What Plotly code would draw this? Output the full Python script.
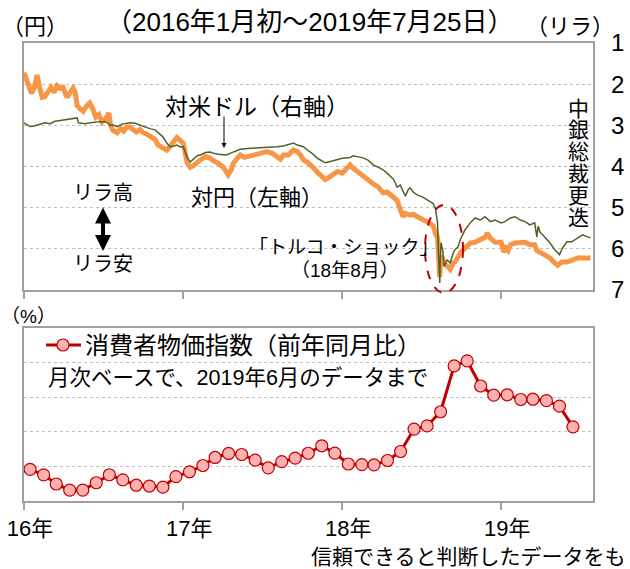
import pandas as pd
import plotly.graph_objects as go

# ---------------- data ----------------
# Turkish lira vs yen (left axis, yen per lira)
jpy_dates = [
    "2016-01-01", "2016-01-05", "2016-01-12", "2016-01-18", "2016-01-25", "2016-01-31", "2016-02-05",
    "2016-02-12", "2016-02-18", "2016-02-25", "2016-03-03", "2016-03-10", "2016-03-17", "2016-03-24",
    "2016-03-31", "2016-04-05", "2016-04-09", "2016-04-16", "2016-04-23", "2016-04-28", "2016-05-02",
    "2016-05-09", "2016-05-16", "2016-05-23", "2016-05-31", "2016-06-07", "2016-06-14", "2016-06-21",
    "2016-06-28", "2016-07-07", "2016-07-14", "2016-07-18", "2016-07-23", "2016-08-02", "2016-08-10",
    "2016-08-17", "2016-08-24", "2016-08-31", "2016-09-08", "2016-09-15", "2016-09-23", "2016-10-01",
    "2016-10-10", "2016-10-20", "2016-10-28", "2016-11-04", "2016-11-10", "2016-11-18", "2016-11-24",
    "2016-12-01", "2016-12-10", "2016-12-17", "2016-12-24",
    "2017-01-01", "2017-01-10", "2017-01-17", "2017-01-24", "2017-02-02", "2017-02-09", "2017-02-21",
    "2017-03-04", "2017-03-11", "2017-03-22", "2017-04-03", "2017-04-10", "2017-04-14", "2017-04-21",
    "2017-04-26", "2017-05-05", "2017-05-12", "2017-05-21", "2017-05-28", "2017-06-08", "2017-06-20",
    "2017-07-01", "2017-07-13", "2017-07-24", "2017-08-05", "2017-08-12", "2017-08-19", "2017-08-30",
    "2017-09-11", "2017-09-20", "2017-09-27", "2017-10-04", "2017-10-13", "2017-10-20", "2017-10-26",
    "2017-11-05", "2017-11-12", "2017-11-23", "2017-12-05", "2017-12-12", "2017-12-21",
    "2018-01-01", "2018-01-08", "2018-01-19", "2018-01-26", "2018-02-04", "2018-02-18", "2018-03-02",
    "2018-03-13", "2018-03-25", "2018-04-05", "2018-04-14", "2018-04-21", "2018-04-28", "2018-05-07",
    "2018-05-14", "2018-05-21", "2018-05-26", "2018-06-06", "2018-06-13", "2018-06-22", "2018-06-29",
    "2018-07-06", "2018-07-15", "2018-07-22", "2018-07-29", "2018-08-03", "2018-08-08", "2018-08-10",
    "2018-08-13", "2018-08-15", "2018-08-17", "2018-08-23", "2018-08-30", "2018-09-06", "2018-09-13",
    "2018-09-17", "2018-09-24", "2018-09-29", "2018-10-10", "2018-10-22", "2018-11-02", "2018-11-14",
    "2018-11-25", "2018-11-30", "2018-12-07", "2018-12-18",
    "2019-01-01", "2019-01-07", "2019-01-12", "2019-01-17", "2019-01-22", "2019-02-02", "2019-02-14",
    "2019-02-25", "2019-03-08", "2019-03-19", "2019-03-24", "2019-03-31", "2019-04-11", "2019-04-23",
    "2019-05-04", "2019-05-11", "2019-05-20", "2019-06-01", "2019-06-12", "2019-06-26", "2019-07-07",
    "2019-07-19", "2019-07-25",
]
jpy_values = [
    41.4, 40.8, 39.5, 38.9, 39.6, 41.1, 39.8,
    38.4, 38.5, 39.2, 39.6, 39.0, 39.8, 39.5,
    39.6, 38.9, 38.4, 39.0, 39.5, 39.0, 37.4,
    37.0, 36.7, 37.3, 37.7, 37.0, 36.0, 36.3,
    35.4, 35.8, 36.5, 35.0, 34.4, 34.1, 34.6,
    34.3, 34.8, 34.8, 34.4, 34.2, 34.5, 34.1,
    33.9, 33.5, 33.3, 32.6, 32.4, 32.3, 32.0,
    32.4, 33.0, 33.5, 33.2,
    32.8, 30.4, 29.9, 30.1, 30.6, 30.8, 31.2,
    31.0, 30.7, 30.4, 29.9, 29.4, 29.0, 29.6,
    30.4, 31.0, 31.4, 31.1, 31.2, 31.4, 31.6,
    31.7, 31.8, 31.6, 31.2, 30.9, 31.4, 31.4,
    32.0, 31.8, 31.4, 30.8, 30.5, 30.2, 29.9,
    29.3, 29.0, 28.4, 28.8, 29.0, 29.4,
    29.2, 29.6, 30.2, 29.8, 29.4, 28.9, 28.4,
    27.9, 27.5, 26.8, 26.9, 26.6, 26.2, 25.9,
    24.8, 23.9, 24.3, 24.1, 24.2, 23.9, 23.6,
    23.5, 23.3, 23.1, 22.8, 21.9, 21.4, 19.5,
    16.6, 18.4, 19.2, 18.3, 17.8, 17.5, 18.3,
    18.4, 19.0, 19.5, 20.1, 20.7, 20.8, 21.1,
    21.4, 21.9, 21.3, 20.8,
    20.8, 19.6, 20.1, 19.8, 20.5, 20.7, 20.8,
    20.8, 20.5, 20.5, 19.8, 19.6, 19.2, 18.9,
    18.3, 18.0, 18.4, 18.4, 18.6, 18.9, 18.9,
    19.0, 18.9,
]

# Turkish lira vs US dollar (right axis, lira per dollar, inverted)
usd_dates = [
    "2016-01-01", "2016-01-08", "2016-01-15", "2016-01-22", "2016-01-31", "2016-02-09", "2016-02-18",
    "2016-03-01", "2016-03-12", "2016-03-24", "2016-04-09", "2016-04-23", "2016-05-02", "2016-05-05",
    "2016-05-20", "2016-06-01", "2016-06-12", "2016-06-24", "2016-07-07", "2016-07-18", "2016-07-23",
    "2016-08-02", "2016-08-13", "2016-08-22", "2016-08-31", "2016-09-12", "2016-09-23", "2016-10-05",
    "2016-10-16", "2016-10-28", "2016-11-08", "2016-11-15", "2016-11-24", "2016-12-01", "2016-12-11",
    "2016-12-17", "2016-12-24",
    "2017-01-01", "2017-01-10", "2017-01-17", "2017-01-24", "2017-02-02", "2017-02-09", "2017-02-21",
    "2017-03-04", "2017-03-11", "2017-03-22", "2017-04-03", "2017-04-10", "2017-04-21", "2017-05-05",
    "2017-05-12", "2017-05-28", "2017-06-20", "2017-07-13", "2017-07-24", "2017-08-05", "2017-08-19",
    "2017-08-30", "2017-09-11", "2017-09-20", "2017-10-04", "2017-10-13", "2017-10-26", "2017-11-05",
    "2017-11-12", "2017-11-23", "2017-12-05", "2017-12-21",
    "2018-01-01", "2018-01-19", "2018-01-26", "2018-02-04", "2018-02-18", "2018-03-02", "2018-03-13",
    "2018-03-25", "2018-04-05", "2018-04-14", "2018-04-21", "2018-04-28", "2018-05-03", "2018-05-07",
    "2018-05-14", "2018-05-21", "2018-05-26", "2018-06-02", "2018-06-06", "2018-06-13", "2018-06-22",
    "2018-07-06", "2018-07-15", "2018-07-22", "2018-07-29", "2018-08-03", "2018-08-08", "2018-08-10",
    "2018-08-13", "2018-08-14", "2018-08-16", "2018-08-20", "2018-08-23", "2018-08-30", "2018-09-06",
    "2018-09-13", "2018-09-17", "2018-09-24", "2018-09-29", "2018-10-10", "2018-10-22", "2018-11-02",
    "2018-11-14", "2018-11-25", "2018-12-07", "2018-12-18",
    "2019-01-01", "2019-01-10", "2019-01-22", "2019-02-02", "2019-02-14", "2019-02-25", "2019-03-08",
    "2019-03-19", "2019-03-24", "2019-03-27", "2019-03-31", "2019-04-11", "2019-04-23", "2019-05-04",
    "2019-05-15", "2019-05-22", "2019-06-01", "2019-06-12", "2019-06-26", "2019-07-07", "2019-07-19",
    "2019-07-25",
]
usd_values = [
    2.94, 2.98, 3.03, 3.02, 2.99, 2.96, 2.94,
    2.96, 2.90, 2.88, 2.86, 2.84, 2.82, 2.94,
    2.96, 2.94, 2.92, 2.91, 2.91, 3.00, 2.99,
    3.03, 2.97, 2.95, 2.94, 2.95, 2.99, 3.05,
    3.08, 3.11, 3.20, 3.28, 3.43, 3.52, 3.50,
    3.48, 3.52,
    3.52, 3.79, 3.89, 3.82, 3.74, 3.72, 3.66,
    3.65, 3.68, 3.70, 3.72, 3.72, 3.67, 3.60,
    3.58, 3.56, 3.55, 3.54, 3.53, 3.52, 3.50,
    3.47, 3.43, 3.48, 3.52, 3.60, 3.70, 3.80,
    3.84, 3.91, 3.88, 3.84,
    3.80, 3.78, 3.74, 3.76, 3.79, 3.85, 3.96,
    4.02, 4.08, 4.16, 4.22, 4.30, 4.40, 4.50,
    4.45, 4.62, 4.72, 4.55, 4.52, 4.62, 4.69,
    4.75, 4.81, 4.86, 4.90, 5.02, 5.37, 6.10,
    6.83, 6.30, 5.85, 6.05, 6.43, 6.27, 6.34,
    6.10, 6.02, 5.95, 5.78, 5.54, 5.37, 5.25,
    5.30, 5.22, 5.34, 5.30,
    5.37, 5.34, 5.25, 5.22, 5.30, 5.34, 5.42,
    5.37, 5.71, 5.45, 5.59, 5.71, 5.85, 6.02,
    6.14, 5.98, 5.83, 5.83, 5.74, 5.66, 5.71,
    5.73,
]

# Consumer price index, year-on-year (%), monthly
cpi_months = [
    "2016-01", "2016-02", "2016-03", "2016-04", "2016-05", "2016-06", "2016-07", "2016-08",
    "2016-09", "2016-10", "2016-11", "2016-12",
    "2017-01", "2017-02", "2017-03", "2017-04", "2017-05", "2017-06", "2017-07", "2017-08",
    "2017-09", "2017-10", "2017-11", "2017-12",
    "2018-01", "2018-02", "2018-03", "2018-04", "2018-05", "2018-06", "2018-07", "2018-08",
    "2018-09", "2018-10", "2018-11", "2018-12",
    "2019-01", "2019-02", "2019-03", "2019-04", "2019-05", "2019-06",
]
cpi_values = [
    9.58, 8.78, 7.46, 6.57, 6.58, 7.64, 8.79, 8.05, 7.28, 7.16, 7.00, 8.53,
    9.22, 10.13, 11.29, 11.87, 11.72, 10.90, 9.79, 10.68, 11.20, 11.90, 12.98, 11.92,
    10.35, 10.26, 10.23, 10.85, 12.15, 15.39, 15.85, 17.90, 24.52, 25.24, 21.62, 20.30,
    20.35, 19.67, 19.71, 19.50, 18.71, 15.72,
]

year_ticks = ["2016-01-01", "2017-01-01", "2018-01-01", "2019-01-01"]
year_labels = ["16年", "17年", "18年", "19年"]
right_ticks = [1, 2, 3, 4, 5, 6, 7]

# ---------------- layout helpers ----------------
W, H = 630, 569
L, R, T, B = 24, 37, 43, 68
PW, PH = W - L - R, H - T - B


def px(x):
    return (x - L) / PW


def py(y):
    return (H - B - y) / PH


FONT = "Liberation Sans, Arial, 'Noto Sans CJK JP', sans-serif"
ORANGE = "#F79646"
GREEN = "#4F6228"
DARKRED = "#C00000"
PINK = "#FFB0B0"
FRAME = "#A0A0A0"
GRID = "#BFBFBF"

cpi_x = pd.to_datetime(cpi_months) + pd.Timedelta(days=14)

fig = go.Figure()
fig.add_trace(go.Scatter(x=pd.to_datetime(jpy_dates), y=jpy_values, mode="lines",
                         line=dict(color=ORANGE, width=5), xaxis="x", yaxis="y",
                         name="対円（左軸）"))
fig.add_trace(go.Scatter(x=pd.to_datetime(usd_dates), y=usd_values, mode="lines",
                         line=dict(color=GREEN, width=1.5), xaxis="x", yaxis="y2",
                         name="対米ドル（右軸）"))
fig.add_trace(go.Scatter(x=cpi_x, y=cpi_values, mode="lines+markers",
                         line=dict(color=DARKRED, width=3),
                         marker=dict(size=12, color=PINK, line=dict(color=DARKRED, width=1.2)),
                         xaxis="x2", yaxis="y3", name="消費者物価指数（前年同月比）"))

top_dom = [py(290), 1]
bot_dom = [0, py(328)]
xrange_ = ["2016-01-01", "2019-07-31"]

axis_common = dict(showline=True, linecolor=FRAME, linewidth=1.5, mirror=True, automargin=False)

fig.update_layout(
    width=W, height=H,
    margin=dict(l=L, r=R, t=T, b=B, autoexpand=False),
    paper_bgcolor="white", plot_bgcolor="white",
    showlegend=False,
    font=dict(family=FONT, color="#000000", size=22),
    xaxis=dict(domain=[0, 1], anchor="y", range=xrange_, type="date",
               tickvals=year_ticks, showticklabels=False, ticks="outside", ticklen=7,
               tickcolor=FRAME, tickwidth=1.5, showgrid=False, **axis_common),
    yaxis=dict(domain=top_dom, anchor="x", range=[15, 45], dtick=5, showticklabels=False,
               showgrid=True, gridcolor=GRID, griddash="dot", gridwidth=1, zeroline=False,
               **axis_common),
    yaxis2=dict(overlaying="y", side="right", anchor="x", range=[7, 1], tickvals=right_ticks,
                showgrid=False, zeroline=False, ticks="", showline=False, automargin=False,
                tickfont=dict(size=24, color="#000000"), ticklabelstandoff=17),
    xaxis2=dict(domain=[0, 1], anchor="y3", range=xrange_, type="date",
                tickvals=year_ticks, ticktext=year_labels, ticks="outside", ticklen=7,
                tickcolor=FRAME, tickwidth=1.5, showgrid=False,
                tickfont=dict(size=22, color="#000000"), ticklabelshift=6,
                **axis_common),
    yaxis3=dict(domain=bot_dom, anchor="x2", range=[5, 30], dtick=5, showticklabels=False,
                showgrid=True, gridcolor=GRID, griddash="dot", gridwidth=1, zeroline=False,
                **axis_common),
)


def note(text, x, y, size=22, xanchor="center", **kw):
    fig.add_annotation(text=text, x=px(x), y=py(y), xref="paper", yref="paper",
                       showarrow=False, xanchor=xanchor, yanchor="middle",
                       font=dict(size=size, family=FONT, color="#000000"), **kw)


note("（2016年1月初～2019年7月25日）", 310, 22, size=26)
note("（円）", 35, 27, size=22)
note("（リラ）", 570, 27, size=22)
note("対米ドル（右軸）", 257, 107, size=23)
note("対円（左軸）", 257, 197, size=22)
note("リラ高", 103, 193, size=20)
note("リラ安", 103, 264, size=20)
note("「トルコ・ショック」", 344, 247, size=19)
note("（18年8月）", 345, 270, size=19)
for i, ch in enumerate("中銀総裁更迭"):
    note(ch, 578, 108 + i * 21.8, size=21)
note("（%）", 28, 316, size=19)
note("消費者物価指数（前年同月比）", 83, 345, size=24, xanchor="left")
note("月次ベースで、2019年6月のデータまで", 46, 378, size=21.5, xanchor="left")
note("信頼できると判断したデータをも", 309, 556, size=21, xanchor="left")

# arrow pointing to the USD line
fig.add_annotation(x=px(224), y=py(148), xref="paper", yref="paper", text="",
                   showarrow=True, ax=0, ay=-33, arrowhead=2, arrowsize=1, arrowwidth=1,
                   arrowcolor="#000000")
# double-headed arrow between リラ高 and リラ安
fig.add_annotation(x=px(103), y=py(251), xref="paper", yref="paper", text="",
                   showarrow=True, ax=0, ay=-45, arrowhead=2, startarrowhead=2,
                   arrowside="end+start", arrowsize=0.8, startarrowsize=0.8,
                   arrowwidth=4, arrowcolor="#000000")

# dashed ellipse around the Turkish shock
fig.add_shape(type="circle", xref="paper", yref="paper",
              x0=px(425), x1=px(463), y0=py(293), y1=py(205),
              line=dict(color=DARKRED, width=2, dash="dash"))

# legend sample for CPI
fig.add_shape(type="line", xref="paper", yref="paper", x0=px(46), x1=px(81),
              y0=py(345), y1=py(345), line=dict(color=DARKRED, width=3))
fig.add_shape(type="circle", xref="paper", yref="paper", x0=px(57), x1=px(69),
              y0=py(351), y1=py(339), fillcolor=PINK, line=dict(color=DARKRED, width=1.2))

fig.write_html("out.html", config={"displayModeBar": False},
               post_script="document.body.style.margin='0';document.body.style.padding='0';")
